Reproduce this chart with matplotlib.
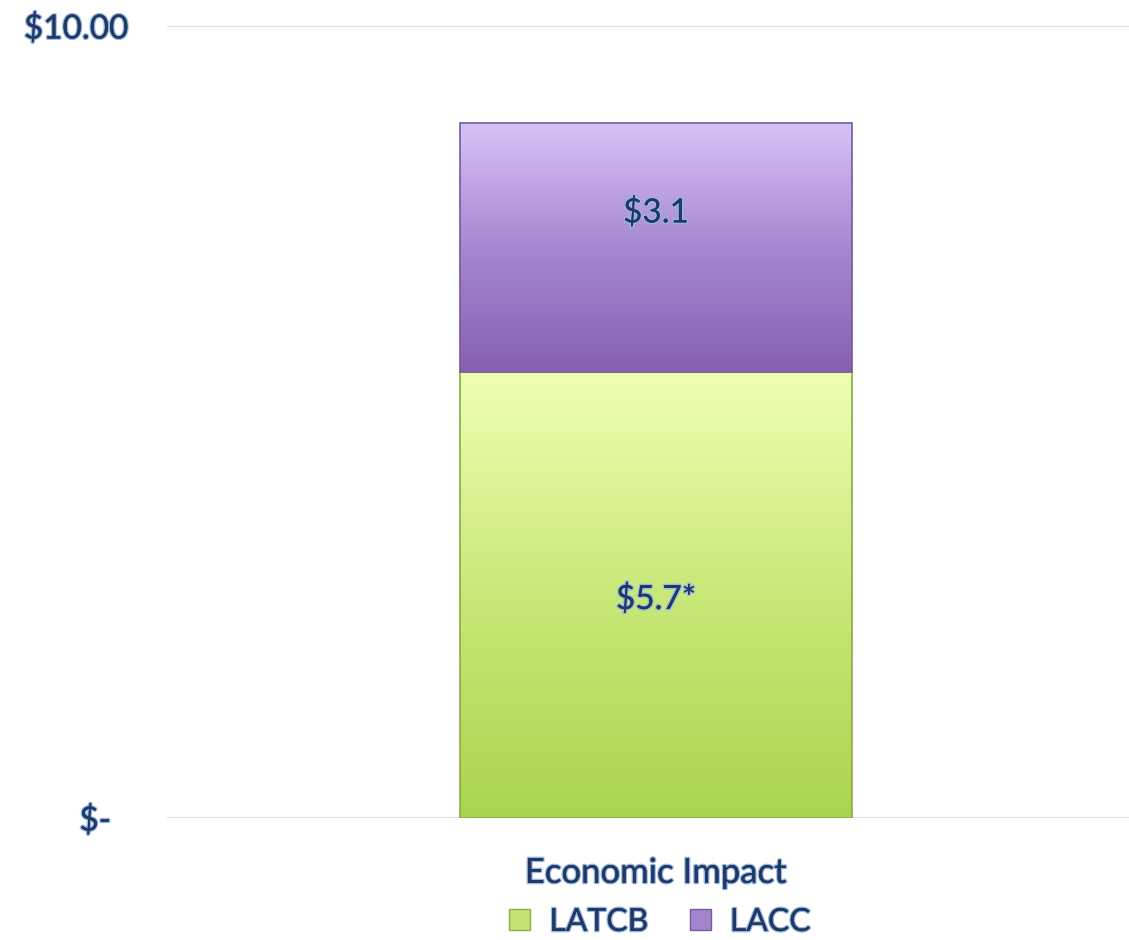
import numpy as np
import matplotlib.pyplot as plt
import matplotlib.patheffects as pe
from matplotlib.colors import LinearSegmentedColormap
from matplotlib.patches import Patch

# данные
categories = ["Economic Impact"]
series_names = ["LATCB", "LACC"]
latcb = [5.63]
lacc = [3.14]
value_labels = [["$5.7*"], ["$3.1"]]
y_ticks = [0, 10]
y_tick_labels = ["$-  ", "$10.00"]

plt.rcParams["font.family"] = ["Lato", "DejaVu Sans"]
txt_color = "#1f3864"
glow = [pe.withStroke(linewidth=2, foreground="#9ab8e2"), pe.Normal()]

fig = plt.figure(figsize=(11.29, 9.40), dpi=100)
ax = fig.add_axes([167 / 1129, 122 / 940, 978 / 1129, 792 / 940])

x = np.arange(len(categories))
w = 0.4
bars_g = ax.bar(x, latcb, w, color="none", edgecolor="#8aab45", linewidth=1.2, zorder=3)
bars_p = ax.bar(x, lacc, w, bottom=latcb, color="none", edgecolor="#7659a0",
                linewidth=1.2, zorder=3)

# градиенты внутри столбиков
grads = {
    "g": LinearSegmentedColormap.from_list("g", ["#aad44e", "#c8e878", "#eeffb4"]),
    "p": LinearSegmentedColormap.from_list("p", ["#8660b2", "#a588d0", "#d8c2f8"]),
}
for bars, key in [(bars_g, "g"), (bars_p, "p")]:
    for b in bars:
        x0, y0 = b.get_x(), b.get_y()
        x1, y1 = x0 + b.get_width(), y0 + b.get_height()
        grad = np.linspace(0, 1, 256).reshape(-1, 1)
        im = ax.imshow(grad, cmap=grads[key], origin="lower", aspect="auto",
                       extent=[x0, x1, y0, y1], zorder=2)
        im.set_clip_path(b)

ax.set_xlim(-0.5, 0.5)
ax.set_ylim(0, 10)
ax.set_yticks(y_ticks)
ax.set_yticklabels(y_tick_labels)
ax.set_xticks(x)
ax.set_xticklabels(categories)
ax.tick_params(length=0)
ax.tick_params(axis="y", pad=28, labelsize=24, labelcolor=txt_color)
ax.tick_params(axis="x", pad=28, labelsize=25, labelcolor=txt_color)
for lab in ax.get_yticklabels() + ax.get_xticklabels():
    lab.set_path_effects(glow)

ax.grid(axis="y", color="#d6e2f2", linewidth=1.5, zorder=0)
for s in ax.spines.values():
    s.set_visible(False)

# подписи значений
for i in range(len(categories)):
    ax.text(x[i], latcb[i] * 0.49, value_labels[0][i], ha="center", va="center",
            fontsize=24, color=txt_color, path_effects=glow, zorder=5)
    ax.text(x[i], latcb[i] + lacc[i] * 0.64, value_labels[1][i], ha="center",
            va="center", fontsize=24, color=txt_color, path_effects=glow, zorder=5)

handles = [Patch(facecolor="#c4e274", edgecolor="#8aab45", label=series_names[0]),
           Patch(facecolor="#a283cc", edgecolor="#7659a0", label=series_names[1])]
leg = fig.legend(handles=handles, loc="center", bbox_to_anchor=(660 / 1129, 1 - 922 / 940),
                 ncol=2, frameon=False, fontsize=23, handlelength=0.65, handleheight=0.65,
                 columnspacing=1.3, handletextpad=0.6)
for t in leg.get_texts():
    t.set_color(txt_color)
    t.set_path_effects(glow)

fig.savefig("out.png", dpi=100)
